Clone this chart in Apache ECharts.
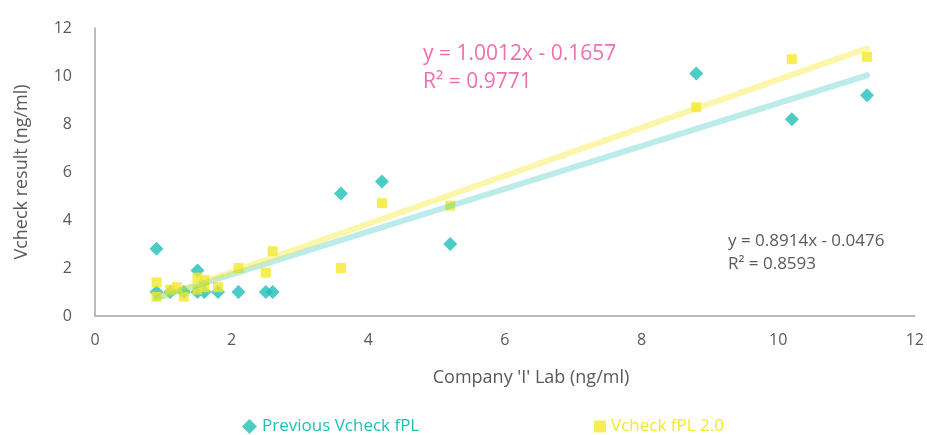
<!DOCTYPE html>
<html>
<head>
<meta charset="utf-8">
<script src="https://cdn.jsdelivr.net/npm/echarts@6/dist/echarts.min.js"></script>
<style>
    html, body {margin: 0; padding: 0; background: #ffffff;}
    #chart {width: 927px; height: 435px;}
</style>
</head>
<body>
<div id="chart"></div>
<script>
// values
let prevData = [
    [0.9, 2.8], [0.9, 1.0], [1.1, 1.0], [1.3, 1.0], [1.5, 1.9], [1.5, 1.0], [1.6, 1.0],
    [1.8, 1.0], [2.1, 1.0], [2.5, 1.0], [2.6, 1.0], [3.6, 5.1], [4.2, 5.6], [5.2, 3.0],
    [8.8, 10.1], [10.2, 8.2], [11.3, 9.2]
]
let newData = [
    [0.9, 1.4], [0.9, 0.8], [1.1, 1.1], [1.2, 1.2], [1.3, 0.8], [1.5, 1.6], [1.6, 1.5],
    [1.5, 1.1], [1.6, 1.2], [1.8, 1.2], [2.1, 2.0], [2.5, 1.8], [2.6, 2.7], [3.6, 2.0],
    [4.2, 4.7], [5.2, 4.6], [8.8, 8.7], [10.2, 10.7], [11.3, 10.8]
]
// trend line end points (from the fitted equations shown on the chart)
let prevTrend = [[0.9, 0.75], [11.3, 10.03]]
let newTrend = [[0.9, 0.74], [11.3, 11.15]]
let prevLabel = ['y = 0.8914x - 0.0476', 'R² = 0.8593']
let newLabel = ['y = 1.0012x - 0.1657', 'R² = 0.9771']
let axisTicks = {min: 0, max: 12, interval: 2}

let teal = '#1ebfb7'
let yellow = '#f4e92a'
let grey = '#595959'
let font = 'Open Sans'

let chart = echarts.init(document.getElementById('chart'), null, {renderer: 'canvas'});

let option = {
    animation: false,
    textStyle: {fontFamily: font},
    grid: {left: 95, right: 12, top: 28, bottom: 119},
    xAxis: {
        type: 'value',
        min: axisTicks.min,
        max: axisTicks.max,
        interval: axisTicks.interval,
        splitLine: {show: false},
        axisTick: {show: false},
        axisLine: {lineStyle: {color: '#a6a6a6', width: 1.5}},
        axisLabel: {color: grey, fontSize: 16, margin: 16, fontFamily: font}
    },
    yAxis: {
        type: 'value',
        min: axisTicks.min,
        max: axisTicks.max,
        interval: axisTicks.interval,
        splitLine: {show: false},
        axisTick: {show: false},
        axisLine: {show: true, lineStyle: {color: '#a6a6a6', width: 1.5}},
        axisLabel: {color: grey, fontSize: 16, margin: 23, fontFamily: font}
    },
    legend: [
        {
            left: 237, top: 413,
            itemWidth: 15, itemHeight: 15, itemGap: 10,
            textStyle: {color: teal, fontSize: 17, fontFamily: font},
            data: [{name: 'Previous Vcheck fPL', icon: 'diamond'}]
        },
        {
            left: 589, top: 413,
            itemWidth: 12, itemHeight: 12, itemGap: 10,
            textStyle: {color: yellow, fontSize: 17, fontFamily: font},
            data: [{name: 'Vcheck fPL 2.0', icon: 'rect'}]
        }
    ],
    graphic: [
        {
            type: 'text', x: 531, y: 378,
            style: {text: "Company 'I' Lab (ng/ml)", fill: grey, font: '18px "' + font + '"', textAlign: 'center', textVerticalAlign: 'middle'}
        },
        {
            type: 'text', x: 22, y: 172, rotation: Math.PI / 2,
            style: {text: 'Vcheck result (ng/ml)', fill: grey, font: '18px "' + font + '"', textAlign: 'center', textVerticalAlign: 'middle'}
        },
        {
            type: 'text', left: 423, top: 40,
            style: {text: newLabel.join('\n'), fill: '#ec6fae', font: '21px "' + font + '"', lineHeight: 28}
        },
        {
            type: 'text', left: 728, top: 230,
            style: {text: prevLabel.join('\n'), fill: grey, font: '17px "' + font + '"', lineHeight: 23}
        }
    ],
    series: [
        {
            name: 'Previous Vcheck fPL',
            type: 'scatter',
            symbol: 'diamond',
            symbolSize: 14,
            itemStyle: {color: teal},
            data: prevData,
            z: 2
        },
        {
            name: 'Vcheck fPL 2.0',
            type: 'scatter',
            symbol: 'rect',
            symbolSize: 10,
            itemStyle: {color: yellow},
            data: newData,
            z: 2
        },
        {
            name: 'trend prev',
            type: 'line',
            data: prevTrend,
            showSymbol: false,
            lineStyle: {color: teal, width: 6, opacity: 0.3, cap: 'round'},
            z: 3
        },
        {
            name: 'trend new',
            type: 'line',
            data: newTrend,
            showSymbol: false,
            lineStyle: {color: yellow, width: 6, opacity: 0.4, cap: 'round'},
            z: 3
        }
    ]
};
chart.setOption(option);
</script>
</body>
</html>
